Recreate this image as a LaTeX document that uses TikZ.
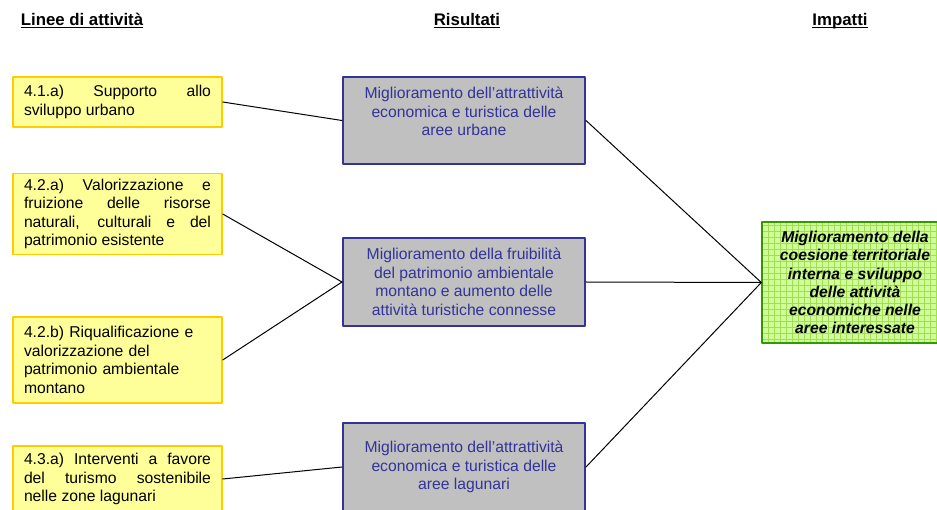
\documentclass[tikz,border=0pt]{standalone}
\usepackage{fontspec}
\setmainfont{Liberation Sans}
\definecolor{boxYellow}{HTML}{FFFF99}
\definecolor{rimYellow}{HTML}{FFCC00}
\definecolor{boxGrey}{HTML}{C0C0C0}
\definecolor{inkBlue}{HTML}{333399}
\definecolor{boxGreen}{HTML}{CCFF99}
\definecolor{gridGreen}{HTML}{A8DC50}
\definecolor{rimGreen}{HTML}{339900}

\begin{document}
\begin{tikzpicture}[
  x=1pt, y=-1pt,
  line cap=round, line join=round,
  body/.style={font=\fontsize{15.7}{18.5}\selectfont},
  head/.style={font=\fontsize{16.8}{19}\selectfont\bfseries, inner sep=0pt,
    anchor=base},
  linea/.style={body, draw=rimYellow, fill=boxYellow, line width=1.4pt,
    minimum width=209pt, text width=187pt, inner xsep=11pt, align=justify},
  risultato/.style={body, draw=inkBlue, fill=boxGrey, line width=2pt,
    minimum width=242pt, minimum height=87pt, text=inkBlue, align=center},
  impatto/.style={body, draw=rimGreen, fill=boxGreen, line width=1.4pt,
    minimum width=186pt, minimum height=121pt, align=center,
    font=\fontsize{15.7}{18.2}\selectfont\bfseries\itshape,
    path picture={\draw[gridGreen, line width=.45pt]
      (path picture bounding box.north west) grid[step=6pt]
      (path picture bounding box.south east);}},
  link/.style={draw=black, line width=1pt}
]
\useasboundingbox (0,0) rectangle (937,510);

% column headings
\node[head] (hLinee) at (82,26) {\underline{\smash{Linee di attività}}};
\node[head] (hRis) at (467,26) {\underline{\smash{Risultati}}};
\node[head] (hImp) at (840,26) {\underline{\smash{Impatti}}};

% lines of activity
\node[linea, minimum height=50pt] (l41a) at (117.5,102)
  {4.1.a) Supporto allo\linebreak sviluppo urbano};
\node[linea, minimum height=81pt] (l42a) at (117.5,214)
  {4.2.a) Valorizzazione e\linebreak fruizione delle risorse\linebreak
   naturali, culturali e del\linebreak patrimonio esistente};
\node[linea, minimum height=86pt, align=left] (l42b) at (117.5,360)
  {4.2.b) Riqualificazione e\\ valorizzazione del\\
   patrimonio ambientale\\ montano};
\node[linea, minimum height=66pt] (l43a) at (117.5,479)
  {4.3.a) Interventi a favore\linebreak del turismo sostenibile\linebreak
   nelle zone lagunari};

% results
\node[risultato] (rUrb) at (464,120.5)
  {Miglioramento dell’attrattività\\ economica e turistica delle\\
   aree urbane\\ ~};
\node[risultato, minimum height=88pt] (rMon) at (464,282)
  {Miglioramento della fruibilità\\ del patrimonio ambientale\\
   montano e aumento delle\\ attività turistiche connesse};
\node[risultato, minimum height=88pt] (rLag) at (464,467)
  {Miglioramento dell’attrattività\\ economica e turistica delle\\
   aree lagunari};

% impact
\node[impatto] (imp) at (855,282.5)
  {Miglioramento della\\ coesione territoriale\\ interna e sviluppo\\
   delle attività\\ economiche nelle\\ aree interessate};

\draw[link] (l41a.east) -- (rUrb.west);
\draw[link] (l42a.east) -- (rMon.west);
\draw[link] (l42b.east) -- (rMon.west);
\draw[link] (l43a.east) -- (rLag.west);
\draw[link] (rUrb.east) -- (imp.west);
\draw[link] (rMon.east) -- (imp.west);
\draw[link] (rLag.east) -- (imp.west);
\end{tikzpicture}
\end{document}
